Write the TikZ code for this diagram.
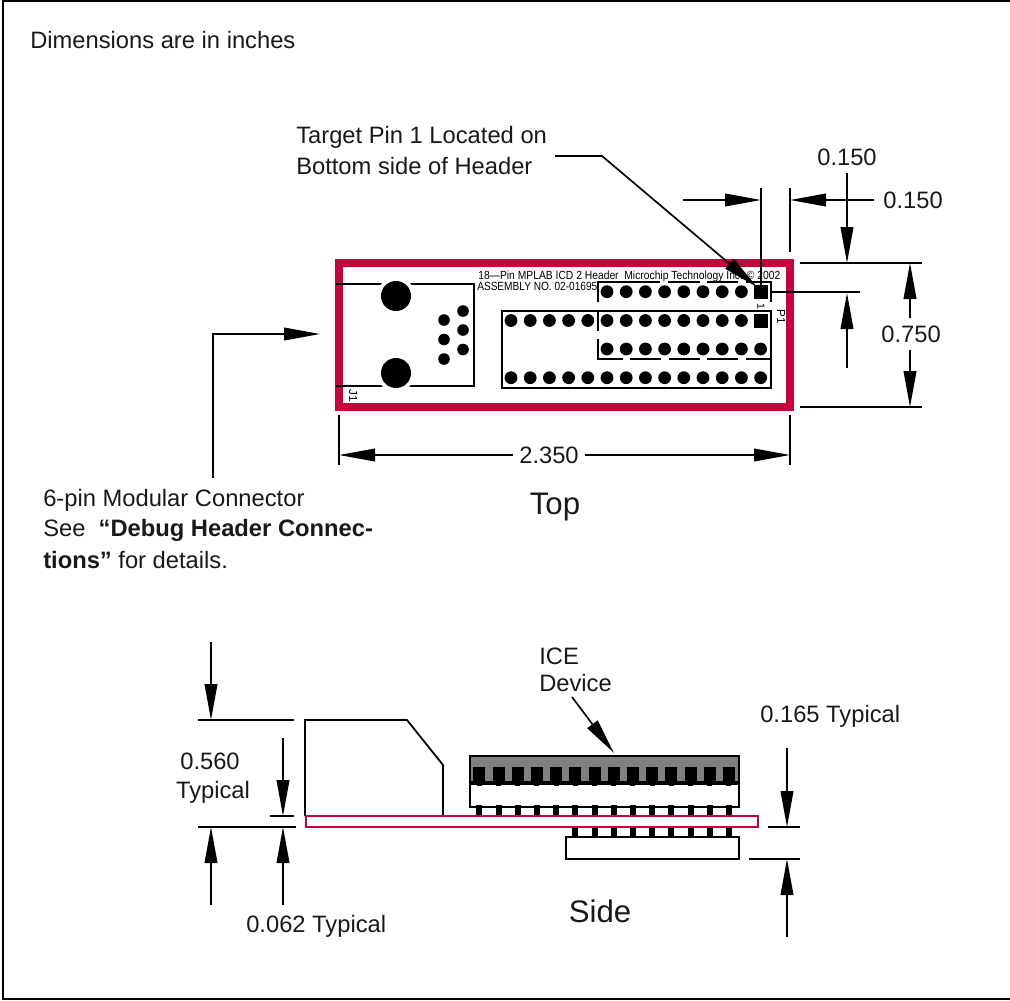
\documentclass[tikz,border=0pt]{standalone}
\usepackage{fontspec}
\usepackage{graphicx}
\setmainfont{Liberation Sans}
\usetikzlibrary{arrows.meta}
\definecolor{pcbred}{HTML}{C8003C}
\definecolor{icegray}{HTML}{808080}
\tikzset{
  px/.style={x=0.75pt,y=-0.75pt},
  dimline/.style={line width=1.25pt,black},
  extline/.style={line width=1.1pt,black},
  dimarrow/.style={dimline,-{Triangle[length=27pt,width=9.5pt]}},
  label/.style={inner sep=0pt,font=\fontsize{17.8pt}{21pt}\selectfont,text=black!90},
  biglabel/.style={inner sep=0pt,font=\fontsize{23.4pt}{28pt}\selectfont,text=black!90},
  tiny/.style={inner sep=0pt,font=\fontsize{6pt}{7pt}\selectfont},
  trace/.style={line width=1.2pt,black},
  board/.style={draw=pcbred,line width=6pt,miter limit=10},
  boardthin/.style={draw=pcbred,line width=1.3pt,fill=white},
  outline/.style={line width=1.3pt,black},
  pad/.style={fill=black,draw=none},
}
\begin{document}
\begin{tikzpicture}[px]
\useasboundingbox (0,0) rectangle (1010,1000);
% frame
\draw[line width=0.8pt] (1010,1) -- (3,1) -- (3,999) -- (1010,999);

\node[label,anchor=west] (dim) at (30,40) {Dimensions are in inches};

% ---------- top view ----------
% board
\draw[board] (339,263) rectangle (790,407);

\node[tiny,anchor=west] (silka) at (478,276.5) {\resizebox{302\dimexpr0.75pt\relax}{6.4pt}{18—Pin MPLAB ICD 2 Header\ \ Microchip Technology Inc. © 2002}};
\node[tiny,anchor=west] (silkb) at (477,286.5) {\resizebox{120\dimexpr0.75pt\relax}{6.2pt}{ASSEMBLY NO. 02-01695}};
\node[tiny,rotate=-90] (j1) at (353,396) {\resizebox{!}{6pt}{J1}};
\node[tiny,rotate=-90] (p1) at (781,317) {\resizebox{!}{6pt}{P1}};
\node[tiny,rotate=-90] (one) at (761,306) {\resizebox{!}{5.5pt}{1}};

% connector J1
\draw[trace] (336,284) -- (474,284) -- (474,386) -- (336,386);
\fill[white] (396,296) circle (19);
\fill[white] (396,373) circle (19);
\fill[pad] (396,296) circle (15);
\fill[pad] (396,373) circle (15);
\foreach \y in {320,339.5,359} \fill[pad] (444,\y) circle (5.8);
\foreach \y in {311,330,349.5} \fill[pad] (463,\y) circle (5.8);

% P1 outline
\draw[trace] (598,302) -- (598,282) -- (660,282);
\draw[trace] (668,282) -- (700,282);
\draw[trace] (707,282) -- (738,282);
\draw[trace] (746,282) -- (771,282) -- (771,302);
\draw[trace] (598,331) -- (598,311);
\draw[trace] (502,311) rectangle (771,388);
\draw[trace] (598,339) -- (598,359) -- (623,359);
\draw[trace] (630,359) -- (661,359);
\draw[trace] (669,359) -- (700,359);
\draw[trace] (707,359) -- (738,359);
\draw[trace] (746,359) -- (771,359);

% pads
\foreach \n in {5,...,12} \fill[pad] ({511+19.2*\n},291.7) circle (6.4);
\foreach \n in {0,...,12} \fill[pad] ({511+19.2*\n},320.5) circle (6.4);
\foreach \n in {5,...,13} \fill[pad] ({511+19.2*\n},349) circle (6.4);
\foreach \n in {0,...,13} \fill[pad] ({511+19.2*\n},377.7) circle (6.4);
\fill[pad] (754,285) rectangle (768,299);
\fill[pad] (754,314) rectangle (768,328);

% dimensions, top view
\draw[extline] (339,415) -- (339,465);
\draw[extline] (790,415) -- (790,465);
\node[label] (w) at (549,455) {2.350};
\coordinate (wl) at (339,455);
\coordinate (wr) at (790,455);
\draw[dimarrow] (w.west) ++(-6,0) -- (wl);
\draw[dimarrow] (w.east) ++(6,0) -- (wr);

\draw[extline] (761,188) -- (761,286);
\draw[extline] (790,188) -- (790,252);
\draw[dimarrow] (683,200) -- (761,200);
\coordinate (hs) at (874,200);
\draw[dimarrow] (hs) -- (790,200);
\node[label] (hv) at (913,200) {0.150};

\node[label] (vv) at (847,157) {0.150};
\draw[dimarrow] (847,173) -- (847,263);
\draw[extline] (800,263) -- (922,263);
\draw[extline] (771,292) -- (860,292);
\draw[dimarrow] (847,368) -- (847,293);

\node[label] (h) at (911,334) {0.750};
\draw[dimarrow] (910,318) -- (910,263);
\draw[dimarrow] (910,350) -- (910,407);
\draw[extline] (800,407) -- (922,407);

% callouts
\node[label,anchor=west] (tp1) at (296,137) {Target Pin 1 Located on};
\node[label,anchor=west] (tp2) at (296,166) {Bottom side of Header};
\coordinate (tpa) at (555,156);
\coordinate (tpb) at (602,156);
\coordinate (tpc) at (757,287);
\draw[dimarrow] (tpa) -- (tpb) -- (tpc);

\coordinate (mca) at (213,478);
\coordinate (mcb) at (213,334);
\coordinate (mcc) at (320,334);
\draw[dimarrow] (mca) -- (mcb) -- (mcc);
\node[label,anchor=west] (mc1) at (43,500) {6-pin Modular Connector};
\node[label,anchor=west] (mc2) at (43,530) {See\ \ \textbf{“Debug Header Connec-}};
\node[label,anchor=west] (mc3) at (43,560) {\textbf{tions”} for details.};
\node[biglabel] (top) at (555,507) {Top};

% ---------- side view ----------
\draw[outline] (305,816) -- (305,720) -- (407,720) -- (443,765) -- (443,816);

% ICE stack
\draw[outline,fill=icegray] (470,756) rectangle (739,782);
\draw[outline,fill=white] (470,784) rectangle (739,807);
\foreach \n in {0,...,13} {
  \fill[pad] ({479.3+19.2*\n-6},767) rectangle ({479.3+19.2*\n+6},782);
  \fill[pad] ({479.3+19.2*\n-2.5},782) rectangle ({479.3+19.2*\n+2.5},785.5);
  \fill[pad] ({479.3+19.2*\n-3},805) rectangle ({479.3+19.2*\n+3},816);
}
\foreach \n in {5,...,13}
  \fill[pad] ({479.3+19.2*\n-3},827) rectangle ({479.3+19.2*\n+3},837);
\draw[boardthin] (306,816) rectangle (758,827);
\draw[outline,fill=white] (566,837) rectangle (739,859);

\node[label,anchor=west] (ice1) at (539,656) {ICE};
\node[label,anchor=west] (ice2) at (539,683) {Device};
\coordinate (icea) at (572,697);
\coordinate (iceb) at (614,753);
\draw[dimarrow] (icea) -- (iceb);

% dimensions, side view
\draw[dimarrow] (211,642) -- (211,720);
\draw[extline] (198,720) -- (294,720);
\node[label] (t1) at (210,761) {0.560};
\node[label] (t2) at (213,792) {Typical};
\draw[dimarrow] (283,738) -- (283,816);
\draw[extline] (270,816) -- (294,816);
\draw[extline] (198,827) -- (296,827);
\draw[dimarrow] (211,905) -- (211,827);
\draw[dimarrow] (283,905) -- (283,827);
\node[label,anchor=west] (t3) at (246,926) {0.062 Typical};

\node[label,anchor=west] (t4) at (760,716) {0.165 Typical};
\draw[dimarrow] (787,748) -- (787,827);
\draw[extline] (768,827) -- (800,827);
\draw[extline] (749,859) -- (800,859);
\draw[dimarrow] (787,937) -- (787,859);

\node[biglabel] (side) at (600,911) {Side};
\end{tikzpicture}
\end{document}
